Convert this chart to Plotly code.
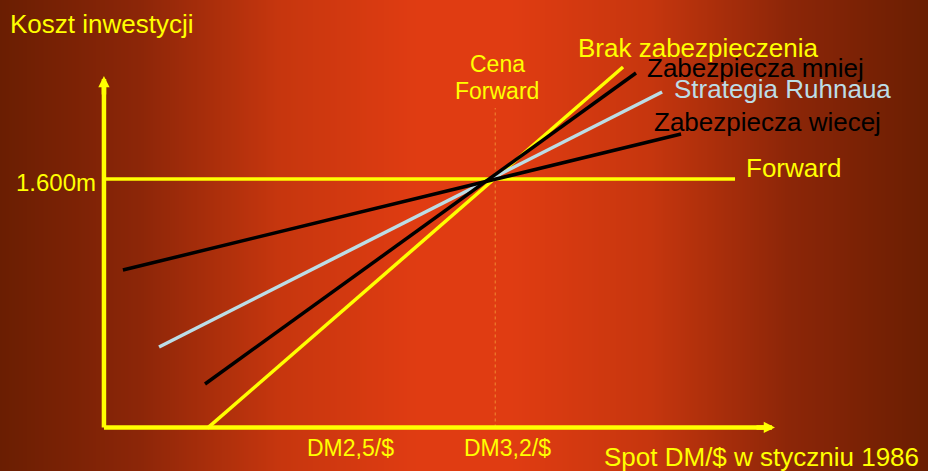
import numpy as np
import plotly.graph_objects as go

# --- values (spot rate in DM/$, investment cost in m DM) ---
forward_rate = 3.2
forward_cost = 1600
x_ticks = [2.5, 3.2]
x_tick_labels = ["DM2,5/$", "DM3,2/$"]
y_tick_labels = ["1.600m"]

unhedged_x = [1.91, 3.773]
unhedged_y = [960, 1888]
hedge_less_x = [1.899, 3.831]
hedge_less_y = [1073.5, 1872.5]
ruhnau_x = [1.693, 3.948]
ruhnau_y = [1168.6, 1823.6]
hedge_more_x = [1.531, 4.033]
hedge_more_y = [1366.4, 1715.8]
forward_x = [1.446, 4.275]

# axis frame (origin corner and arrow tips)
x_min, x_max = 0.98, 5.14
y_min, y_max = 850, 2060
corner_x, corner_y = 1.446, 961.8
x_tip, y_tip = 4.454, 1864.7
guide_top = 1782.5

YELLOW = "#ffff00"
BLACK = "#000000"
LIGHTBLUE = "#bcdde6"
FONT = "Liberation Sans, Arial, sans-serif"

fig = go.Figure()

# slide background: horizontal gradient, dark brown edges to orange centre
bg_x = np.linspace(x_min, x_max, 300)
bg_pos = (bg_x - x_min) / (x_max - x_min)
fig.add_trace(go.Heatmap(
    x=bg_x, y=[y_min, y_max], z=[bg_pos, bg_pos],
    zmin=0, zmax=1, zsmooth="best", showscale=False, hoverinfo="skip",
    colorscale=[
        [0.0, "rgb(106,30,2)"],
        [0.15, "rgb(140,38,8)"],
        [0.3, "rgb(198,54,14)"],
        [0.45, "rgb(224,60,18)"],
        [0.55, "rgb(224,60,18)"],
        [0.7, "rgb(198,54,14)"],
        [0.85, "rgb(140,38,8)"],
        [1.0, "rgb(106,30,2)"],
    ],
))


def line(xs, ys, color, width, dash="solid"):
    fig.add_trace(go.Scatter(
        x=xs, y=ys, mode="lines", hoverinfo="skip", showlegend=False,
        line=dict(color=color, width=width, dash=dash),
    ))


# forward-price guide
line([forward_rate, forward_rate], [corner_y, guide_top], "#f08a30", 1, "dot")
# axes
line([corner_x, x_tip - 0.03], [corner_y, corner_y], YELLOW, 4.5)
line([corner_x, corner_x], [corner_y, y_tip - 20], YELLOW, 4.5)
# strategies
line(forward_x, [forward_cost, forward_cost], YELLOW, 3.5)
line(unhedged_x, unhedged_y, YELLOW, 3.5)
line(ruhnau_x, ruhnau_y, LIGHTBLUE, 3.5)
line(hedge_less_x, hedge_less_y, BLACK, 3.5)
line(hedge_more_x, hedge_more_y, BLACK, 3.5)

annotations = [
    # arrow heads
    dict(x=x_tip, y=corner_y, ax=-20, ay=0, text="", showarrow=True,
         arrowhead=2, arrowsize=0.5, arrowwidth=4.5, arrowcolor=YELLOW,
         standoff=0),
    dict(x=corner_x, y=y_tip, ax=0, ay=20, text="", showarrow=True,
         arrowhead=2, arrowsize=0.5, arrowwidth=4.5, arrowcolor=YELLOW,
         standoff=0),
]


def label(text, px, py, color, size, anchor="left"):
    annotations.append(dict(
        x=px / 928, y=1 - py / 471, xref="paper", yref="paper",
        text=text, showarrow=False, xanchor=anchor, yanchor="middle",
        font=dict(family=FONT, size=size, color=color),
    ))


label("Koszt inwestycji", 8, 24, YELLOW, 26)
label("Cena", 497, 64, YELLOW, 23, "center")
label("Forward", 497, 91, YELLOW, 23, "center")
label("Brak zabezpieczenia", 576, 48, YELLOW, 26)
label("Zabezpiecza mniej", 645, 68, BLACK, 26)
label("Strategia Ruhnaua", 672, 89, LIGHTBLUE, 26)
label("Zabezpiecza wiecej", 652, 122, BLACK, 26)
label("Forward", 744, 168, YELLOW, 26)
label("Spot DM/$ w styczniu 1986", 602, 457, YELLOW, 26)

# tick labels
for xv, txt, shift in zip(x_ticks, x_tick_labels, [11, 12]):
    annotations.append(dict(
        x=xv, y=corner_y, xref="x", yref="y", text=txt, showarrow=False,
        xanchor="center", yanchor="top", xshift=shift, yshift=-6,
        font=dict(family=FONT, size=23, color=YELLOW),
    ))
annotations.append(dict(
    x=corner_x, y=forward_cost, xref="x", yref="y", text=y_tick_labels[0],
    showarrow=False, xanchor="right", yanchor="middle", xshift=-6, yshift=-3,
    font=dict(family=FONT, size=24, color=YELLOW),
))

fig.update_layout(
    width=928, height=471,
    margin=dict(l=0, r=0, t=0, b=0),
    paper_bgcolor="rgb(106,30,2)", plot_bgcolor="rgb(106,30,2)",
    showlegend=False,
    xaxis=dict(range=[x_min, x_max], visible=False, fixedrange=True),
    yaxis=dict(range=[y_min, y_max], visible=False, fixedrange=True),
    annotations=annotations,
)

fig.write_html("out.html", config={"displayModeBar": False})
